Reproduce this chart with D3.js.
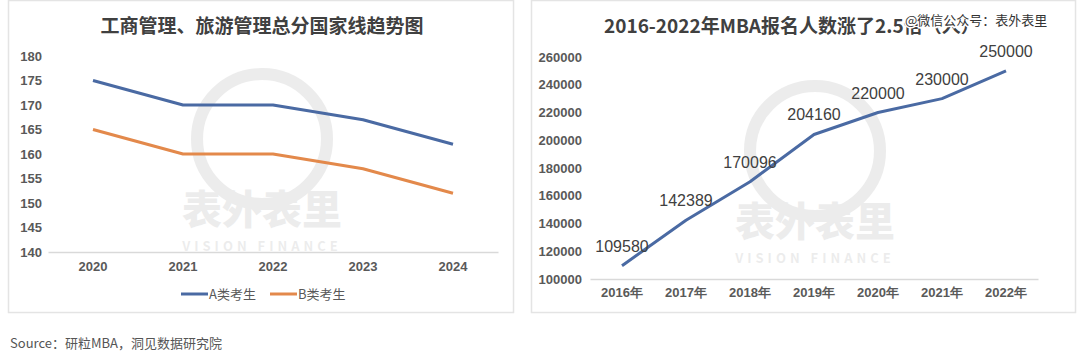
<!DOCTYPE html>
<html>
<head>
<meta charset="utf-8">
<script src="https://cdn.jsdelivr.net/npm/d3@7"></script>
<style>
  body { margin: 0; background: #fff; }
  svg { display: block; font-family: "Noto Sans CJK SC", "Noto Sans", sans-serif; }
</style>
</head>
<body>
<svg id="chart" width="1080" height="360"></svg>
<script>
// left chart data
var years = ["2020", "2021", "2022", "2023", "2024"];
var scoreA = [175, 170, 170, 167, 162];
var scoreB = [165, 160, 160, 157, 152];
var scoreTicks = [140, 145, 150, 155, 160, 165, 170, 175, 180];
var seriesNames = ["A类考生", "B类考生"];

// right chart data
var mbaYears = ["2016年", "2017年", "2018年", "2019年", "2020年", "2021年", "2022年"];
var mbaApplicants = [109580, 142389, 170096, 204160, 220000, 230000, 250000];
var mbaTicks = [100000, 120000, 140000, 160000, 180000, 200000, 220000, 240000, 260000];

var blue = "#4a6aa3", orange = "#e3894b", txt = "#595959";
var svg = d3.select("#chart");

// panels
svg.append("rect").attr("x", 8.5).attr("y", 0.5).attr("width", 505).attr("height", 312)
  .attr("fill", "#fff").attr("stroke", "#e4e4e4").attr("stroke-width", 1.5);
svg.append("rect").attr("x", 531.5).attr("y", 0.5).attr("width", 544).attr("height", 312)
  .attr("fill", "#fff").attr("stroke", "#e4e4e4").attr("stroke-width", 1.5);

// faint watermark logos
function logo(cx, cy) {
  var g = svg.append("g").attr("opacity", 0.07).attr("fill", "#000");
  g.append("circle").attr("cx", cx).attr("cy", cy - 85).attr("r", 65)
    .attr("fill", "none").attr("stroke", "#000").attr("stroke-width", 12);
  g.append("text").attr("x", cx).attr("y", cy).attr("text-anchor", "middle")
    .attr("font-size", 40).attr("font-weight", 900).text("表外表里");
  g.append("text").attr("x", cx).attr("y", cy + 27).attr("text-anchor", "middle")
    .attr("font-size", 13).attr("font-weight", 700).attr("letter-spacing", 4).text("VISION FINANCE");
}
logo(262, 224);
logo(815, 236);

// ---- left chart ----
var x1 = d3.scaleBand().domain(years).range([48, 498]);
var y1 = d3.scaleLinear().domain([140, 180]).range([252, 56]);

svg.append("text").attr("x", 262).attr("y", 33).attr("text-anchor", "middle")
  .attr("font-size", 19).attr("font-weight", 700).attr("fill", "#404040")
  .text("工商管理、旅游管理总分国家线趋势图");

var ay1 = svg.append("g").attr("transform", "translate(46,0)")
  .call(d3.axisLeft(y1).tickValues(scoreTicks).tickSize(0).tickPadding(4));
ay1.select(".domain").remove();
ay1.selectAll("text").attr("font-size", 13).attr("fill", txt).attr("font-family", "Liberation Sans, Arial")
  .attr("font-weight", 700);

var ax1 = svg.append("g").attr("transform", "translate(0,252)")
  .call(d3.axisBottom(x1).tickSize(0).tickPadding(10));
ax1.select(".domain").attr("stroke", "#d9d9d9").attr("stroke-width", 1.5);
ax1.selectAll("text").attr("font-size", 13).attr("fill", txt).attr("font-family", "Liberation Sans, Arial")
  .attr("font-weight", 700);

var line1 = d3.line().x(function(d, i) { return x1(years[i]) + x1.bandwidth() / 2; })
  .y(function(d) { return y1(d); });
[[scoreA, blue], [scoreB, orange]].forEach(function(s) {
  svg.append("path").datum(s[0]).attr("d", line1).attr("fill", "none")
    .attr("stroke", s[1]).attr("stroke-width", 3).attr("stroke-linejoin", "round");
});

// legend
var leg = svg.append("g").attr("transform", "translate(181,294)");
seriesNames.forEach(function(n, i) {
  var g = leg.append("g").attr("transform", "translate(" + (i * 89) + ",0)");
  g.append("line").attr("x1", 0).attr("x2", 27).attr("stroke", i ? orange : blue).attr("stroke-width", 3);
  g.append("text").attr("x", 28).attr("y", 5).attr("font-size", 13).attr("fill", txt).text(n);
});

// ---- right chart ----
var x2 = d3.scaleBand().domain(mbaYears).range([590, 1038]);
var y2 = d3.scaleLinear().domain([100000, 260000]).range([279, 57]);

svg.append("text").attr("x", 604).attr("y", 33)
  .attr("font-size", 19).attr("font-weight", 700).attr("fill", "#404040")
  .text("2016-2022年MBA报名人数涨了2.5倍（人）");
svg.append("text").attr("x", 905).attr("y", 25)
  .attr("font-size", 13).attr("fill", "#333")
  .attr("stroke", "#fff").attr("stroke-width", 3).attr("paint-order", "stroke")
  .text("@微信公众号：表外表里");

var ay2 = svg.append("g").attr("transform", "translate(582,0)")
  .call(d3.axisLeft(y2).tickValues(mbaTicks).tickSize(0).tickPadding(0).tickFormat(d3.format("d")));
ay2.select(".domain").remove();
ay2.selectAll("text").attr("font-size", 13).attr("fill", txt).attr("font-family", "Liberation Sans, Arial")
  .attr("font-weight", 700);

var ax2 = svg.append("g").attr("transform", "translate(0,279)")
  .call(d3.axisBottom(x2).tickSize(0).tickPadding(9));
ax2.select(".domain").attr("stroke", "#d9d9d9").attr("stroke-width", 1.5);
ax2.selectAll("text").attr("font-size", 13).attr("fill", txt).attr("font-weight", 700);

var line2 = d3.line().x(function(d, i) { return x2(mbaYears[i]) + x2.bandwidth() / 2; })
  .y(function(d) { return y2(d); });
svg.append("path").datum(mbaApplicants).attr("d", line2).attr("fill", "none")
  .attr("stroke", blue).attr("stroke-width", 3).attr("stroke-linejoin", "round");

svg.append("g").selectAll("text").data(mbaApplicants).enter().append("text")
  .attr("x", function(d, i) { return x2(mbaYears[i]) + x2.bandwidth() / 2; })
  .attr("y", function(d) { return y2(d) - 14; })
  .attr("text-anchor", "middle").attr("font-size", 16).attr("fill", "#404040")
  .attr("font-family", "Liberation Sans, Arial")
  .text(function(d) { return d; });

// source
svg.append("text").attr("x", 10).attr("y", 348).attr("font-size", 13).attr("fill", "#555")
  .text("Source：研粒MBA，洞见数据研究院");
</script>
</body>
</html>
